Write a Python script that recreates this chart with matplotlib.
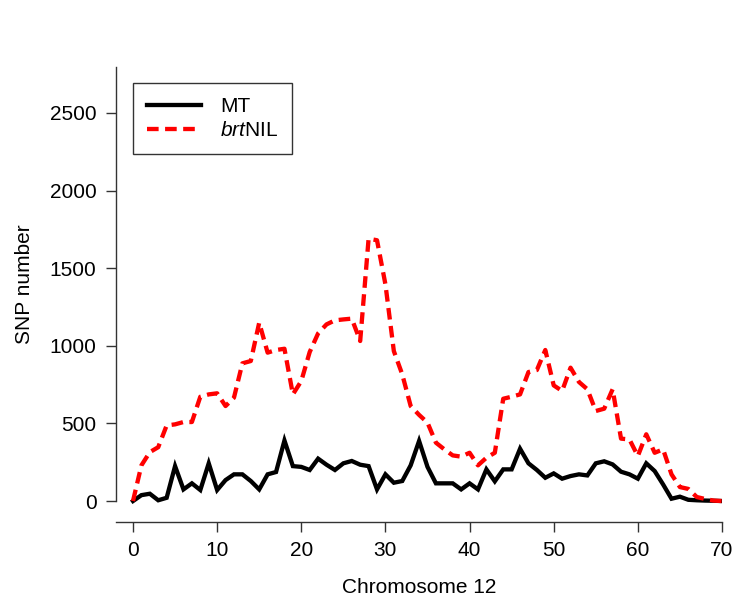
"""
SNP counts along chromosome 12 for MT and brtNIL.
"""
import numpy as np
import matplotlib
matplotlib.use('Agg')
import matplotlib.pyplot as plt

plt.rcParams['font.family'] = 'Liberation Sans'
plt.rcParams['mathtext.fontset'] = 'custom'
plt.rcParams['mathtext.rm'] = 'Liberation Sans'
plt.rcParams['mathtext.it'] = 'Liberation Sans:italic'

# position along chromosome 12 (one bin per unit)
position = np.arange(0, 71)

# SNP number per bin
mt = [0, 38, 47, 5, 21, 225, 75, 114, 71, 243,
      71, 135, 172, 172, 129, 75, 172, 187, 390, 225,
      220, 200, 273, 234, 200, 243, 258, 234, 225, 75,
      172, 118, 129, 230, 387, 220, 114, 114, 114, 75,
      114, 75, 204, 127, 204, 204, 337, 243, 200, 150,
      178, 144, 161, 172, 165, 243, 256, 236, 189, 172,
      144, 243, 193, 107, 15, 28, 8, 5, 3, 2,
      0]
brtnil = [0, 230, 315, 347, 487, 494, 509, 509, 672, 687,
          694, 612, 666, 887, 902, 1149, 956, 973, 981, 687,
          773, 960, 1080, 1138, 1164, 1170, 1175, 1031, 1690, 1680,
          1396, 966, 816, 612, 555, 505, 376, 333, 294, 286,
          311, 230, 279, 311, 659, 672, 687, 831, 844, 973,
          745, 709, 859, 767, 720, 580, 595, 720, 402, 397,
          290, 430, 311, 333, 172, 90, 78, 26, 13, 3,
          0]

yticks = [0, 500, 1000, 1500, 2000, 2500]
xticks = [0, 10, 20, 30, 40, 50, 60, 70]

W, H = 744, 604
fig = plt.figure(figsize=(W / 100, H / 100), dpi=100)
# axes box in pixels: left spine at 116, x=70 at 722, bottom spine at 522, top at 67
ax = fig.add_axes([116 / W, (H - 522) / H, (722 - 116) / W, (522 - 67) / H])

ax.plot(position, mt, color='black', lw=3.1, label='MT',
        solid_joinstyle='miter')
ax.plot(position, brtnil, color='#ff0000', lw=3.1, label=r'$\it{brt}$NIL',
        dashes=(2.7, 1.5), dash_capstyle='butt')

ax.set_xlim(-2.02, 70)
ax.set_ylim(-135, 2796)

spine_col = '#333333'
for side in ['top', 'right']:
    ax.spines[side].set_visible(False)
for side in ['left', 'bottom']:
    ax.spines[side].set_color(spine_col)
    ax.spines[side].set_linewidth(1.0)
ax.spines['left'].set_bounds(0, 2796)

ax.set_xticks(xticks)
ax.set_yticks(yticks)
ax.tick_params(axis='both', direction='out', length=7, width=1.0,
               color=spine_col, labelsize=15, labelcolor='black')
ax.tick_params(axis='y', pad=7)
ax.tick_params(axis='x', pad=6.5)

ax.set_xlabel('Chromosome 12', fontsize=15)
ax.xaxis.set_label_coords(0.5, (522 - 578) / 455)
ax.set_ylabel('SNP number', fontsize=15, va='center')
ax.yaxis.set_label_coords((25 - 116) / 606, (522 - 284) / 455)

leg = ax.legend(loc='upper left', bbox_to_anchor=(133 / W, 1 - 83 / H),
                bbox_transform=fig.transFigure, borderaxespad=0,
                fontsize=15, handlelength=2.6, handletextpad=0.9,
                labelspacing=0.25, borderpad=0.67, fancybox=False,
                framealpha=1)
leg.get_frame().set_edgecolor(spine_col)
leg.get_frame().set_linewidth(1.0)

fig.savefig('out.png', dpi=100)
